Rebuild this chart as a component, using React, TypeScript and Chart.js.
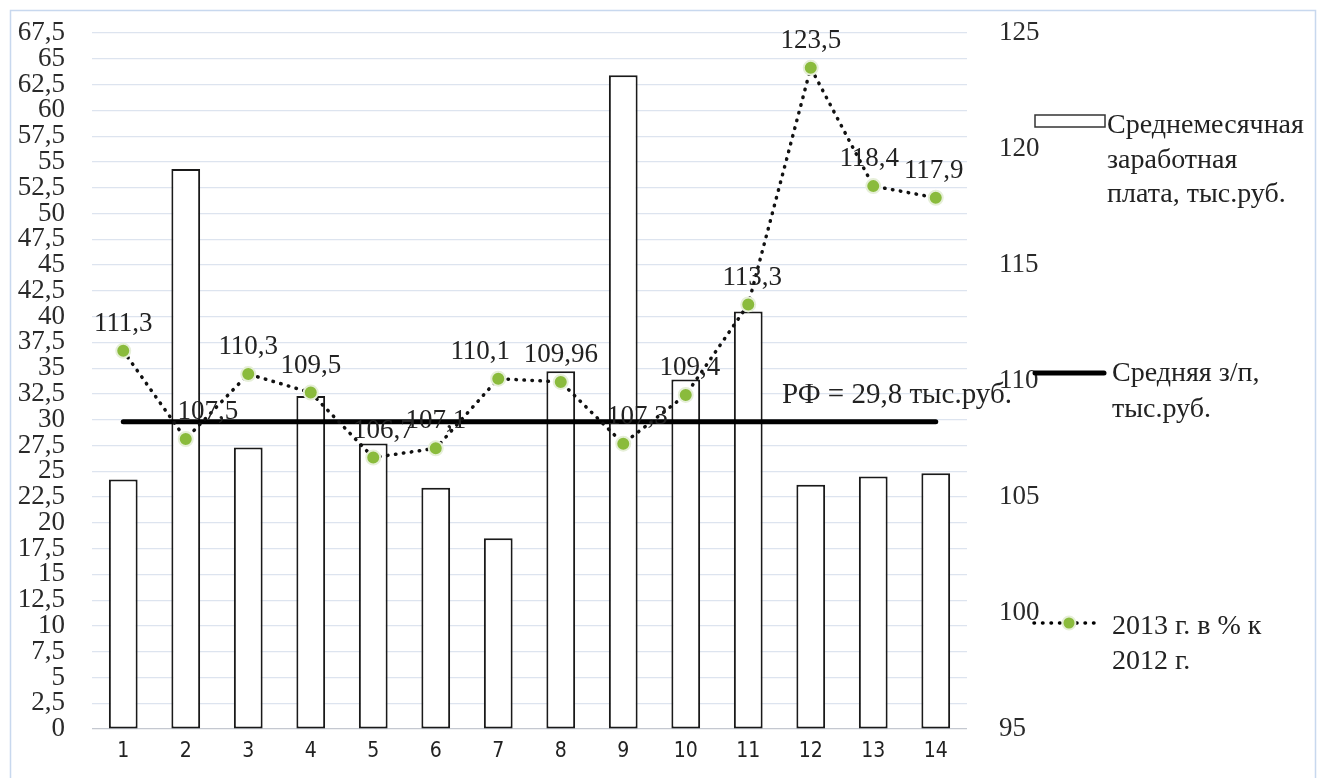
import { useEffect, useRef } from 'react';
import { Chart, registerables } from 'chart.js';

Chart.register(...registerables);

// Regions 1..14
const categories = ['1', '2', '3', '4', '5', '6', '7', '8', '9', '10', '11', '12', '13', '14'];

// Average monthly wage, thousand rubles (left axis)
const salary = [24.2, 54.3, 27.3, 32.3, 27.7, 23.4, 18.5, 34.7, 63.4, 33.9, 40.5, 23.7, 24.5, 24.8];

// 2013 as % of 2012 (right axis)
const growth = [111.3, 107.5, 110.3, 109.5, 106.7, 107.1, 110.1, 109.96, 107.3, 109.4, 113.3, 123.5, 118.4, 117.9];

// Russian Federation average wage, thousand rubles
const RF_AVG = 29.8;
const rfLine = categories.map(() => RF_AVG);

// Axis ranges
const LEFT_MAX = 67.5;
const LEFT_STEP = 2.5;
const RIGHT_MIN = 95;
const RIGHT_MAX = 125;
const RIGHT_STEP = 5;

// Horizontal nudges for value labels (px)
const labelNudgeX = [0, 22, 0, 0, 10, 0, -18, 0, 14, 4, 4, 0, -4, -2];

const SERIF = '"Liberation Serif", "Times New Roman", serif';
const SANS = '"DejaVu Sans Condensed", "DejaVu Sans", sans-serif';
const GREEN = '#8abb3c';
const fmt = (v: number) => String(v).replace('.', ',');

// Keep tick-label overhang from pushing the plot area inward
const trimPadding = (scale: any) => {
  scale.paddingTop = 0;
  scale.paddingBottom = 0;
};

export default function App() {
  const ref = useRef<HTMLCanvasElement>(null);

  useEffect(() => {
    document.body.style.margin = '0';
    document.body.style.overflow = 'hidden';
    const canvas = ref.current;
    if (!canvas) return;

    const decorations = {
      id: 'decorations',
      beforeDraw(chart: any) {
        const ctx = chart.ctx;
        ctx.save();
        ctx.fillStyle = '#ffffff';
        ctx.fillRect(0, 0, chart.width, chart.height);
        ctx.strokeStyle = '#c8d8ee';
        ctx.lineWidth = 1.5;
        ctx.beginPath();
        ctx.moveTo(10.5, chart.height);
        ctx.lineTo(10.5, 10.5);
        ctx.lineTo(1315.5, 10.5);
        ctx.lineTo(1315.5, chart.height);
        ctx.stroke();
        ctx.restore();
      },
      afterDatasetsDraw(chart: any) {
        const ctx = chart.ctx;
        const meta = chart.getDatasetMeta(2);
        ctx.save();
        ctx.fillStyle = '#222';
        ctx.font = `27px ${SERIF}`;
        ctx.textAlign = 'center';
        ctx.textBaseline = 'middle';
        meta.data.forEach((pt: any, i: number) => {
          ctx.fillText(fmt(growth[i]), pt.x + labelNudgeX[i], pt.y - 27);
        });
        // RF average caption
        const yRF = chart.scales.y.getPixelForValue(RF_AVG);
        ctx.font = `29px ${SERIF}`;
        ctx.textAlign = 'left';
        ctx.fillText(`РФ = ${fmt(RF_AVG)} тыс.руб.`, 782, yRF - 26);
        ctx.restore();
      },
      afterDraw(chart: any) {
        const ctx = chart.ctx;
        ctx.save();
        ctx.font = `28px ${SERIF}`;
        ctx.textAlign = 'left';
        ctx.textBaseline = 'alphabetic';

        // Bars
        ctx.fillStyle = '#fff';
        ctx.fillRect(1035, 115, 70, 12);
        ctx.strokeStyle = '#333';
        ctx.lineWidth = 1.5;
        ctx.strokeRect(1035, 115, 70, 12);
        ctx.fillStyle = '#222';
        ctx.fillText('Среднемесячная', 1107, 133);
        ctx.fillText('заработная', 1107, 168);
        ctx.fillText('плата, тыс.руб.', 1107, 202);

        // RF line
        ctx.strokeStyle = '#000';
        ctx.lineWidth = 5;
        ctx.lineCap = 'round';
        ctx.beginPath();
        ctx.moveTo(1035, 373);
        ctx.lineTo(1104, 373);
        ctx.stroke();
        ctx.fillText('Средняя з/п,', 1112, 381);
        ctx.fillText('тыс.руб.', 1112, 417);

        // Growth line
        ctx.lineWidth = 3.5;
        ctx.setLineDash([0.5, 8]);
        ctx.beginPath();
        ctx.moveTo(1034, 623);
        ctx.lineTo(1102, 623);
        ctx.stroke();
        ctx.setLineDash([]);
        ctx.beginPath();
        ctx.arc(1069, 623, 6.5, 0, Math.PI * 2);
        ctx.fillStyle = GREEN;
        ctx.fill();
        ctx.strokeStyle = '#e6efd8';
        ctx.lineWidth = 2;
        ctx.stroke();
        ctx.fillStyle = '#222';
        ctx.fillText('2013 г. в % к', 1112, 634);
        ctx.fillText('2012 г.', 1112, 669);
        ctx.restore();
      },
    };

    const chart = new Chart(canvas, {
      type: 'bar',
      data: {
        labels: categories,
        datasets: [
          {
            type: 'bar',
            label: 'Среднемесячная заработная плата, тыс.руб.',
            data: salary,
            yAxisID: 'y',
            backgroundColor: '#ffffff',
            borderColor: '#1a1a1a',
            borderWidth: 2,
            borderSkipped: false,
            categoryPercentage: 1,
            barPercentage: 0.46,
            order: 3,
          },
          {
            type: 'line',
            label: 'Средняя з/п, тыс.руб.',
            data: rfLine,
            yAxisID: 'y',
            borderColor: '#000',
            borderWidth: 5,
            borderCapStyle: 'round',
            pointRadius: 0,
            fill: false,
            order: 2,
          },
          {
            type: 'line',
            label: '2013 г. в % к 2012 г.',
            data: growth,
            yAxisID: 'y1',
            borderColor: '#111',
            borderWidth: 3.5,
            borderDash: [0.5, 7.5],
            borderCapStyle: 'round',
            tension: 0,
            pointRadius: 7,
            pointBackgroundColor: GREEN,
            pointBorderColor: '#e6efd8',
            pointBorderWidth: 2,
            fill: false,
            order: 1,
          },
        ] as any,
      },
      options: {
        responsive: false,
        animation: false,
        layout: { padding: { top: 33, left: 0, right: 0, bottom: 0 } },
        plugins: {
          legend: { display: false },
          tooltip: { enabled: false },
        },
        scales: {
          x: {
            grid: { display: false, drawTicks: false },
            border: { display: false },
            ticks: {
              color: '#222',
              font: { family: SANS, size: 21 },
              padding: 10,
            },
            afterFit(scale: any) {
              scale.height = 49;
            },
          },
          y: {
            position: 'left',
            min: 0,
            max: LEFT_MAX,
            grid: {
              color: (c: any) => (c.tick && c.tick.value === 0 ? '#c4c8d0' : '#dde4ef'),
              lineWidth: 1.2,
              drawTicks: false,
            },
            border: { display: false },
            ticks: {
              stepSize: LEFT_STEP,
              autoSkip: false,
              color: '#2a2a2a',
              font: { family: SERIF, size: 27 },
              padding: 27,
              callback: (v: any) => fmt(Number(v)),
            },
            afterFit(scale: any) {
              scale.width = 92;
              trimPadding(scale);
            },
          },
          y1: {
            position: 'right',
            min: RIGHT_MIN,
            max: RIGHT_MAX,
            grid: { display: false, drawTicks: false },
            border: { display: false },
            ticks: {
              stepSize: RIGHT_STEP,
              autoSkip: false,
              color: '#2a2a2a',
              font: { family: SERIF, size: 27 },
              padding: 32,
            },
            afterFit(scale: any) {
              scale.width = 1319 - 967;
              trimPadding(scale);
            },
          },
        },
      } as any,
      plugins: [decorations],
    });

    return () => chart.destroy();
  }, []);

  return (
    <div style={{ width: 1319, height: 778, position: 'relative', background: '#fff' }}>
      <canvas ref={ref} width={1319} height={778} style={{ display: 'block' }} />
    </div>
  );
}
